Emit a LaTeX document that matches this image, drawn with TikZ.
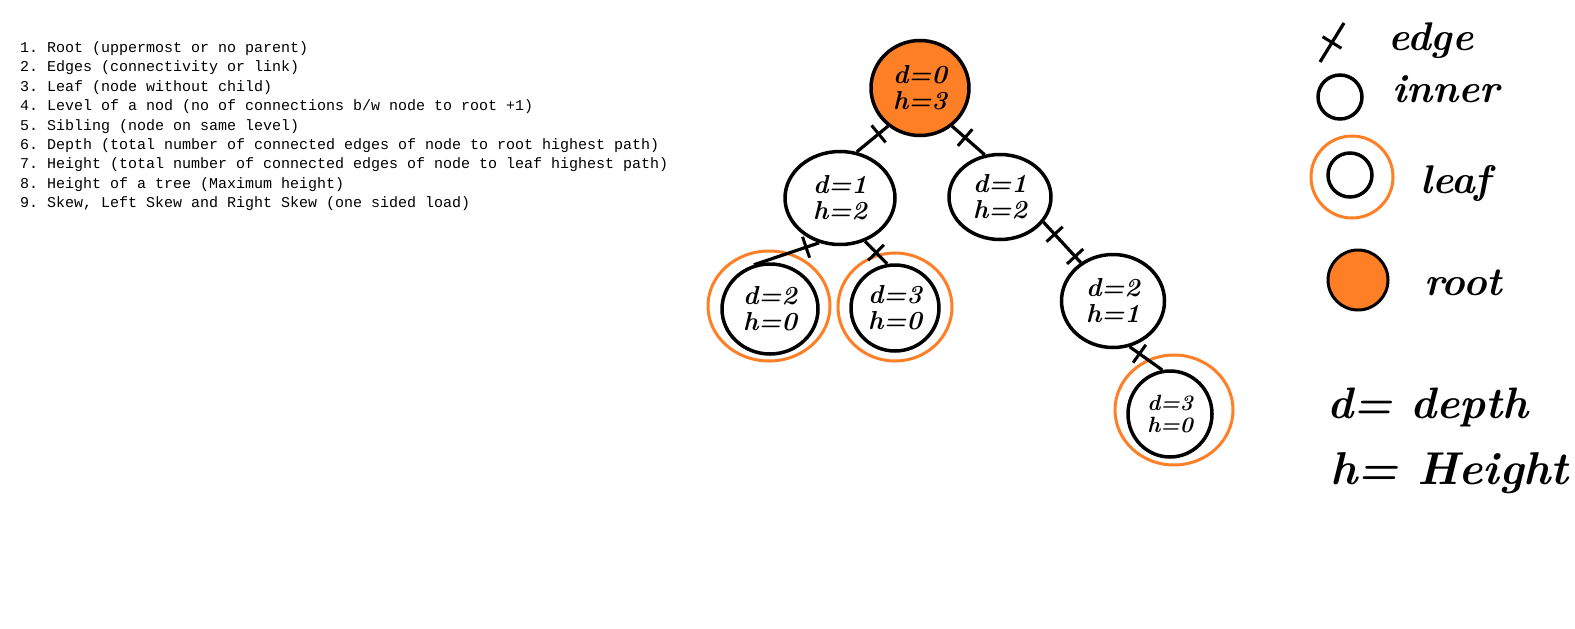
\documentclass[tikz,border=0pt]{standalone}
\usepackage{fontspec}
\setmonofont{Liberation Mono}
\usepackage{tikz}
\usetikzlibrary{shapes.geometric, decorations.markings, positioning}
\definecolor{inkorange}{RGB}{255, 127, 39}

\begin{document}
\begin{tikzpicture}[
  x=1pt, y=-1pt,
  listline/.style={anchor=base west, inner sep=0pt, font=\ttfamily\fontsize{15}{18}\selectfont},
  treenode/.style={ellipse, draw, line width=3.5pt, inner sep=0pt, align=center, font=\bfseries\itshape\fontsize{26}{26}\selectfont},
  leafring/.style={ellipse, draw=inkorange, line width=3pt, inner sep=0pt},
  edgeline/.style={line width=3.2pt},
  edgetick/.style={postaction={decorate, decoration={markings, mark=at position #1 with {\draw[line width=3pt] (0,-11pt) -- (0,11pt);}}}},
  legendtext/.style={anchor=base west, inner sep=0pt, font=\bfseries\itshape\fontsize{40}{44}\selectfont},
]
  \useasboundingbox (0,0) rectangle (1575,629);

  % list of terms
  \foreach \txt [count=\i] in {
    {1. Root (uppermost or no parent)},
    {2. Edges (connectivity or link)},
    {3. Leaf (node without child)},
    {4. Level of a nod (no of connections b/w node to root +1)},
    {5. Sibling (node on same level)},
    {6. Depth (total number of connected edges of node to root highest path)},
    {7. Height (total number of connected edges of node to leaf highest path)},
    {8. Height of a tree (Maximum height)},
    {9. Skew, Left Skew and Right Skew (one sided load)}}
    \node[listline] (item\i) at (20, 33+19.4*\i) {\txt};

  % tree
  \node[treenode, fill=inkorange, minimum width=98pt, minimum height=95pt] (root) at (920,88) {d=0\\h=3};
  \node[treenode, minimum width=110pt, minimum height=93pt] (l1) at (840,198) {d=1\\h=2};
  \node[treenode, minimum width=102pt, minimum height=85pt] (r1) at (1000,197) {d=1\\h=2};
  \node[treenode, minimum width=96pt, minimum height=90pt] (ll) at (770,309) {d=2\\h=0};
  \node[treenode, minimum width=88pt, minimum height=86pt] (lr) at (895,308) {d=3\\h=0};
  \node[treenode, minimum width=103pt, minimum height=93pt] (r2) at (1113,301) {d=2\\h=1};
  \node[treenode, minimum width=84pt, minimum height=86pt, font=\bfseries\itshape\fontsize{22}{22}\selectfont] (rr) at (1170,414) {d=3\\h=0};

  \node[leafring, minimum width=122pt, minimum height=110pt] (llring) at (769,306) {};
  \node[leafring, minimum width=114pt, minimum height=108pt] (lrring) at (895,307) {};
  \node[leafring, minimum width=118pt, minimum height=110pt] (rrring) at (1174,410) {};

  \draw[edgeline, edgetick=0.3] (root.-130) -- (l1.70);
  \draw[edgeline, edgetick=0.4] (root.-50) -- (r1.110);
  \draw[edgeline, edgetick=0.2] (l1.245) -- (ll.110);
  \draw[edgeline, edgetick=0.5] (l1.-60) -- (lr.100);
  \draw[edgeline, edgetick=0.3, edgetick=0.85] (r1.-30) -- (r2.130);
  \draw[edgeline, edgetick=0.3] (r2.-70) -- (rr.100);

  % legend
  \coordinate (edgea) at (1320,62);
  \coordinate (edgeb) at (1344,23);
  \draw[edgeline, edgetick=0.5] (edgea) -- (edgeb);
  \node[legendtext] (edgetext) at (1388,50) {edge};

  \node[circle, draw, line width=3.5pt, minimum size=44pt] (innersym) at (1340,97) {};
  \node[legendtext] (innertext) at (1392,102) {inner};

  \node[circle, draw, line width=3.5pt, minimum size=44pt] (leafsym) at (1350,175) {};
  \node[circle, draw=inkorange, line width=3pt, minimum size=82pt] (leafsymring) at (1352,177) {};
  \node[legendtext] (leaftext) at (1420,193) {leaf};

  \node[circle, draw, fill=inkorange, line width=3pt, minimum size=60pt] (rootsym) at (1358,280) {};
  \node[legendtext] (roottext) at (1424,295) {root};

  \node[legendtext, font=\bfseries\itshape\fontsize{44}{48}\selectfont] (dkey) at (1327,418) {d= depth};
  \node[legendtext, font=\bfseries\itshape\fontsize{46}{48}\selectfont] (hkey) at (1330,484) {h= Height};
\end{tikzpicture}
\end{document}
